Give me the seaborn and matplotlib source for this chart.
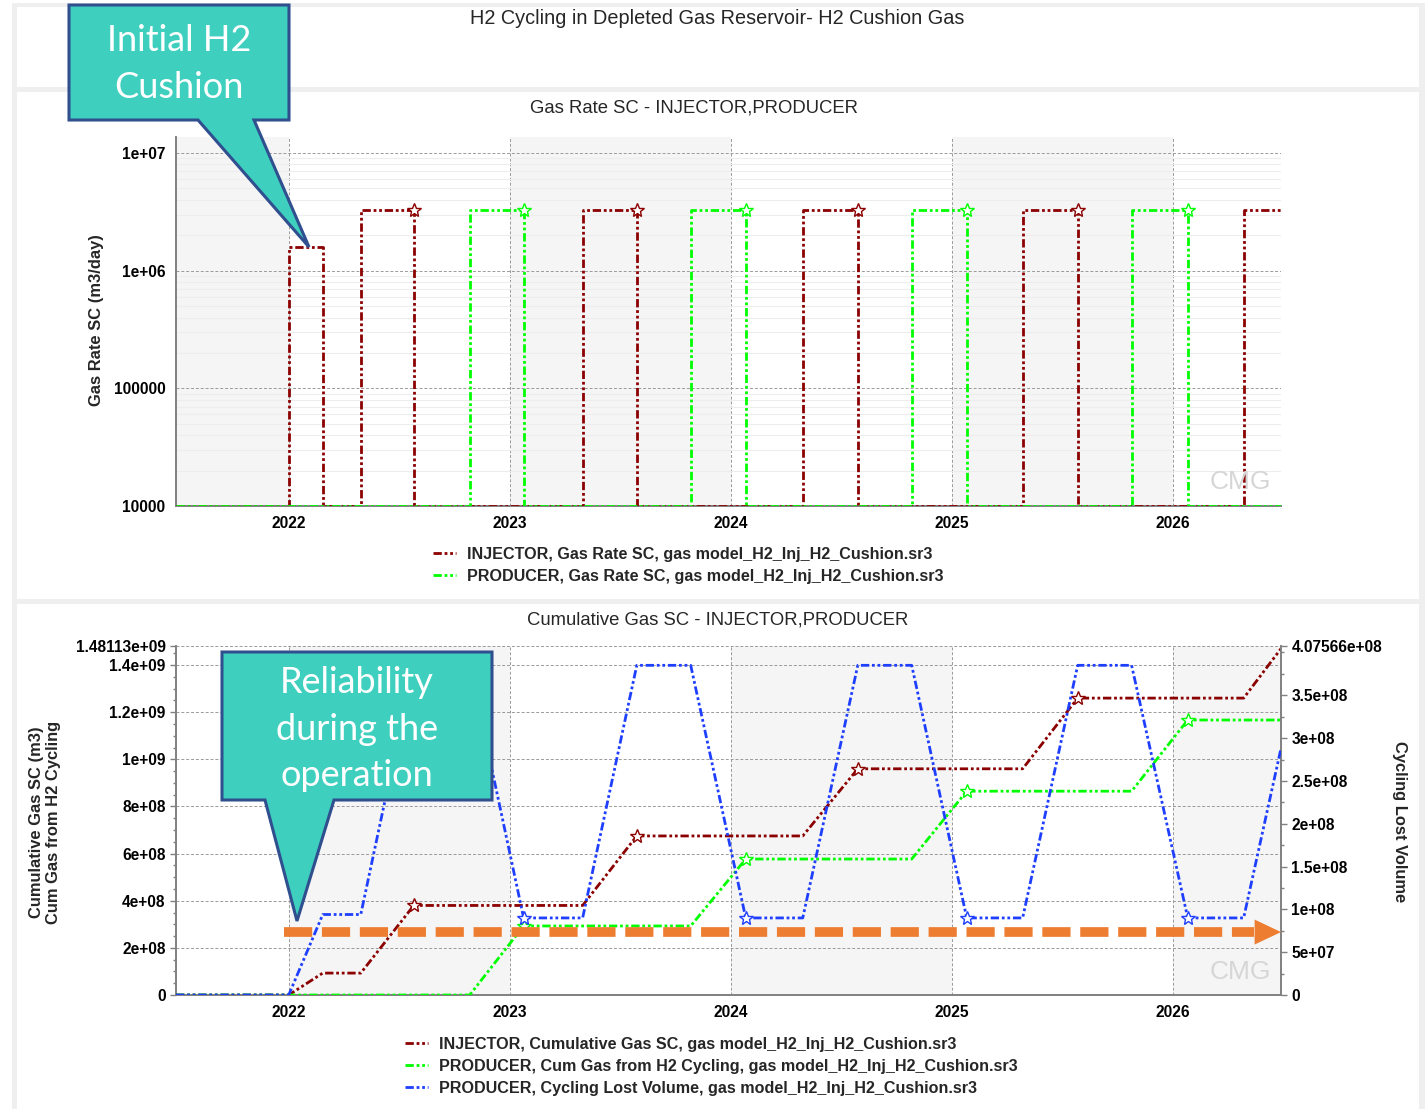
import numpy as np
import matplotlib
matplotlib.use("Agg")
import matplotlib.pyplot as plt
import seaborn as sns
from matplotlib.patches import Rectangle, Polygon
from matplotlib.lines import Line2D
from matplotlib.ticker import MultipleLocator, LogLocator, NullFormatter

# ---- data (time in decimal years) ----
x_start, x_end = 2021.49, 2026.49
years = [2022, 2023, 2024, 2025, 2026]

# gas rate pulses (m3/day)
inj_on = [2022.000, 2022.326, 2023.330, 2024.326, 2025.321, 2026.321]
inj_off = [2022.154, 2022.566, 2023.575, 2024.575, 2025.570, 2026.570]
inj_rate = [1.58e6, 3.27e6, 3.27e6, 3.27e6, 3.27e6, 3.27e6]
prod_on = [2022.819, 2023.819, 2024.819, 2025.814]
prod_off = [2023.063, 2024.068, 2025.068, 2026.068]
prod_rate = [3.27e6, 3.27e6, 3.27e6, 3.27e6]
rate_floor = 1e4  # zero rate shown on the axis floor

# cumulative volumes (m3)
inj_cum_t = [2021.49, 2022.000, 2022.154, 2022.326, 2022.566, 2023.330, 2023.575,
             2024.326, 2024.575, 2025.321, 2025.570, 2026.321, 2026.49]
inj_cum = [0, 0, 9.3e7, 9.3e7, 3.8e8, 3.8e8, 6.75e8, 6.75e8, 9.6e8, 9.6e8,
           1.26e9, 1.26e9, 1.47e9]
prod_cum_t = [2021.49, 2022.819, 2023.063, 2023.819, 2024.068, 2024.819, 2025.068,
              2025.814, 2026.068, 2026.49]
prod_cum = [0, 0, 2.93e8, 2.93e8, 5.77e8, 5.77e8, 8.65e8, 8.65e8, 1.167e9, 1.167e9]
lost_t = [2021.49, 2022.000, 2022.154, 2022.326, 2022.566, 2022.819, 2023.063,
          2023.330, 2023.575, 2023.819, 2024.068, 2024.326, 2024.575, 2024.819,
          2025.068, 2025.321, 2025.570, 2025.814, 2026.068, 2026.321, 2026.49]
lost = [0, 0, 9.4e7, 9.4e7, 3.85e8, 3.85e8, 9.0e7, 9.0e7, 3.85e8, 3.85e8, 9.0e7,
        9.0e7, 3.85e8, 3.85e8, 9.0e7, 9.0e7, 3.85e8, 3.85e8, 9.0e7, 9.0e7, 2.88e8]

rate_ticks = [1e4, 1e5, 1e6, 1e7]
rate_labels = ["10000", "100000", "1e+06", "1e+07"]
rate_top = 1.37e7
cum_ticks = [0, 2e8, 4e8, 6e8, 8e8, 1e9, 1.2e9, 1.4e9, 1.48113e9]
cum_labels = ["0", "2e+08", "4e+08", "6e+08", "8e+08", "1e+09", "1.2e+09", "1.4e+09",
              "1.48113e+09"]
lost_ticks = [0, 5e7, 1e8, 1.5e8, 2e8, 2.5e8, 3e8, 3.5e8, 4.07566e8]
lost_labels = ["0", "5e+07", "1e+08", "1.5e+08", "2e+08", "2.5e+08", "3e+08", "3.5e+08",
               "4.07566e+08"]

rate_bands = [(x_start, 2022), (2023, 2024), (2025, 2026)]
cum_bands = [(2022, 2023), (2024, 2025), (2026, x_end)]
reliability_level = 7.35e7  # orange reference arrow, right-axis units

# ---- style ----
sns.set_style("white")
plt.rcParams["font.family"] = ["Liberation Sans", "DejaVu Sans"]

RED, GREEN, BLUE, ORANGE = "#8b0000", "#00ff00", "#1f3fff", "#ed7d31"
TEAL, NAVY = "#3ecfbe", "#2f4f8f"
LS = (0, (3, 1, 1, 1, 1, 1))
GRID = "#9a9a9a"
TICK_FS = 11.2

W, H = 1425, 1109
fig = plt.figure(figsize=(W / 100, H / 100), dpi=100)


def fx(x):
    return x / W


def fy(y):
    return 1 - y / H


# grey frame with white panels
fig.patches.append(Rectangle((fx(12), 0), 1 - fx(12), fy(3), transform=fig.transFigure,
                             fc="#efefef", ec="none", zorder=-10))
for top, bottom in [(7, 87), (92, 599), (604, 1109)]:
    fig.patches.append(Rectangle((fx(17), fy(bottom)), fx(1419) - fx(17), fy(top) - fy(bottom),
                                 transform=fig.transFigure, fc="white", ec="none", zorder=-9))


def style_axes(ax, bands):
    ax.set_facecolor("white")
    for a, b in bands:
        ax.axvspan(a, b, color="#f5f5f5", lw=0, zorder=0)
    ax.set_xlim(x_start, x_end)
    ax.set_xticks(years, labels=[str(y) for y in years], fontweight="bold", fontsize=TICK_FS)
    ax.grid(True, axis="both", which="major", color=GRID, ls=(0, (3, 2)), lw=0.7)
    for s in ["top", "right"]:
        ax.spines[s].set_visible(False)
    for s in ["left", "bottom"]:
        ax.spines[s].set_color("#808080")
        ax.spines[s].set_linewidth(1.4)
    ax.tick_params(axis="both", which="both", direction="out", colors="#808080",
                   labelcolor="black", length=4, width=1)
    ax.tick_params(axis="both", which="minor", length=2.5)
    ax.set_xlabel("")
    ax.set_ylabel("")


def steps(on, off, rate):
    t, q = [x_start], [rate_floor]
    for a, b, r in zip(on, off, rate):
        t += [a, a, b, b]
        q += [rate_floor, r, r, rate_floor]
    t.append(max(x_end, t[-1]))
    q.append(rate_floor)
    return t, q


# ---- top: gas rate ----
ax1 = fig.add_axes([fx(176), fy(506), fx(1281) - fx(176), fy(137) - fy(506)])
ax1.set_yscale("log")
ax1.set_ylim(rate_floor, rate_top)
style_axes(ax1, rate_bands)
ax1.set_yticks(rate_ticks, labels=rate_labels, fontweight="bold", fontsize=TICK_FS)
ax1.yaxis.set_minor_locator(LogLocator(base=10, subs=np.arange(2, 10)))
ax1.yaxis.set_minor_formatter(NullFormatter())
ax1.grid(True, axis="y", which="minor", color="#ededed", ls="-", lw=0.8)

t, q = steps(inj_on, inj_off, inj_rate)
sns.lineplot(x=t, y=q, ax=ax1, color=RED, lw=2, linestyle=LS, estimator=None, sort=False,
             zorder=3)
t, q = steps(prod_on, prod_off, prod_rate)
sns.lineplot(x=t, y=q, ax=ax1, color=GREEN, lw=2, linestyle=LS, estimator=None, sort=False,
             zorder=3)
ax1.plot(inj_off[1:-1], inj_rate[1:-1], ls="none", marker="*", ms=10, mfc="white",
         mec=RED, mew=1, zorder=4)
ax1.plot(prod_off, prod_rate, ls="none", marker="*", ms=10, mfc="white", mec=GREEN,
         mew=1, zorder=4)

# ---- bottom: cumulative ----
ax2 = fig.add_axes([fx(176), fy(995), fx(1281) - fx(176), fy(646) - fy(995)])
ax2.set_ylim(cum_ticks[0], cum_ticks[-1])
style_axes(ax2, cum_bands)
ax2.set_yticks(cum_ticks, labels=cum_labels, fontweight="bold", fontsize=TICK_FS)
ax2.yaxis.set_minor_locator(MultipleLocator(5e7))

ax3 = ax2.twinx()
ax3.set_ylim(lost_ticks[0], lost_ticks[-1])
ax3.set_yticks(lost_ticks, labels=lost_labels, fontweight="bold", fontsize=TICK_FS)
ax3.yaxis.set_minor_locator(MultipleLocator(2.5e7))
ax3.grid(False)
for s in ["top", "left", "bottom"]:
    ax3.spines[s].set_visible(False)
ax3.spines["right"].set_color("#808080")
ax3.spines["right"].set_linewidth(1.4)
ax3.tick_params(axis="y", which="both", direction="out", colors="#808080",
                labelcolor="black", length=4, width=1)
ax3.tick_params(axis="y", which="minor", length=2.5)

sns.lineplot(x=inj_cum_t, y=inj_cum, ax=ax2, color=RED, lw=2, linestyle=LS,
             estimator=None, sort=False, zorder=3)
sns.lineplot(x=prod_cum_t, y=prod_cum, ax=ax2, color=GREEN, lw=2, linestyle=LS,
             estimator=None, sort=False, zorder=3)
sns.lineplot(x=lost_t, y=lost, ax=ax3, color=BLUE, lw=2, linestyle=LS,
             estimator=None, sort=False, zorder=3)
ax2.set_ylabel("")
ax3.set_ylabel("")

ax2.plot(inj_off[1:-1], np.interp(inj_off[1:-1], inj_cum_t, inj_cum), ls="none",
         marker="*", ms=10, mfc="white", mec=RED, mew=1, zorder=4)
ax2.plot(prod_off, np.interp(prod_off, prod_cum_t, prod_cum), ls="none", marker="*",
         ms=10, mfc="white", mec=GREEN, mew=1, zorder=4)
ax3.plot(prod_off, np.interp(prod_off, lost_t, lost), ls="none", marker="*", ms=10,
         mfc="white", mec=BLUE, mew=1, zorder=4)

# orange reliability arrow
ax3.plot([2021.98, 2026.37], [reliability_level, reliability_level], color=ORANGE, lw=7,
         dashes=(2.9, 1.0), solid_capstyle="butt", dash_capstyle="butt", zorder=6)
ax3.annotate("", xy=(x_end, reliability_level), xytext=(2026.37, reliability_level),
             arrowprops=dict(arrowstyle="-|>,head_length=0.95,head_width=0.45",
                             mutation_scale=20, fc=ORANGE, ec=ORANGE, lw=0,
                             shrinkA=0, shrinkB=0),
             annotation_clip=False, zorder=6)

# ---- texts ----
fig.text(fx(717), fy(19), "H2 Cycling in Depleted Gas Reservoir- H2 Cushion Gas",
         ha="center", va="center", fontsize=14.3)
fig.text(fx(694), fy(108), "Gas Rate SC - INJECTOR,PRODUCER", ha="center", va="center",
         fontsize=13.3)
fig.text(fx(718), fy(620), "Cumulative Gas SC - INJECTOR,PRODUCER", ha="center",
         va="center", fontsize=13.3)
fig.text(fx(96), fy(320), "Gas Rate SC (m3/day)", rotation=90, ha="center", va="center",
         fontsize=11.9, fontweight="bold")
fig.text(fx(45), fy(822), "Cumulative Gas SC (m3)\nCum Gas from H2 Cycling", rotation=90,
         ha="center", va="center", fontsize=11.9, fontweight="bold", multialignment="center",
         linespacing=1.1)
fig.text(fx(1400), fy(822), "Cycling Lost Volume", rotation=270, ha="center", va="center",
         fontsize=11.9, fontweight="bold")
for y in [482, 972]:
    fig.text(fx(1240), fy(y), "CMG", ha="center", va="center", fontsize=19,
             color="#d6d6d6", fontweight="light")

# legends
leg_kw = dict(loc="upper left", frameon=False, borderpad=0, borderaxespad=0,
              handlelength=1.4, handletextpad=0.7, labelspacing=0.42,
              prop={"weight": "bold", "size": 11.6})
h_top = [Line2D([], [], color=RED, lw=2, ls=LS), Line2D([], [], color=GREEN, lw=2, ls=LS)]
l_top = ["INJECTOR, Gas Rate SC, gas model_H2_Inj_H2_Cushion.sr3",
         "PRODUCER, Gas Rate SC, gas model_H2_Inj_H2_Cushion.sr3"]
fig.legend(h_top, l_top, bbox_to_anchor=(fx(433), fy(547)), **leg_kw)
h_bot = [Line2D([], [], color=RED, lw=2, ls=LS), Line2D([], [], color=GREEN, lw=2, ls=LS),
         Line2D([], [], color=BLUE, lw=2, ls=LS)]
l_bot = ["INJECTOR, Cumulative Gas SC, gas model_H2_Inj_H2_Cushion.sr3",
         "PRODUCER, Cum Gas from H2 Cycling, gas model_H2_Inj_H2_Cushion.sr3",
         "PRODUCER, Cycling Lost Volume, gas model_H2_Inj_H2_Cushion.sr3"]
fig.legend(h_bot, l_bot, bbox_to_anchor=(fx(405), fy(1037)), **leg_kw)

# callouts
callouts = [
    ([(69, 5), (289, 5), (289, 120), (254, 120), (309, 247), (198, 120), (69, 120)],
     (179, 64), "Initial H2\nCushion"),
    ([(222, 652), (492, 652), (492, 800), (334, 800), (297, 921), (265, 800), (222, 800)],
     (357, 729), "Reliability\nduring the\noperation"),
]
for pts, (cx, cy), txt in callouts:
    fig.patches.append(Polygon([(fx(x), fy(y)) for x, y in pts], closed=True,
                               transform=fig.transFigure, fc=TEAL, ec=NAVY, lw=2.2,
                               zorder=10))
    fig.text(fx(cx), fy(cy), txt, ha="center", va="center", fontsize=26, color="white",
             family="Lato", linespacing=1.5, zorder=11)

fig.savefig("out.png", dpi=100)
